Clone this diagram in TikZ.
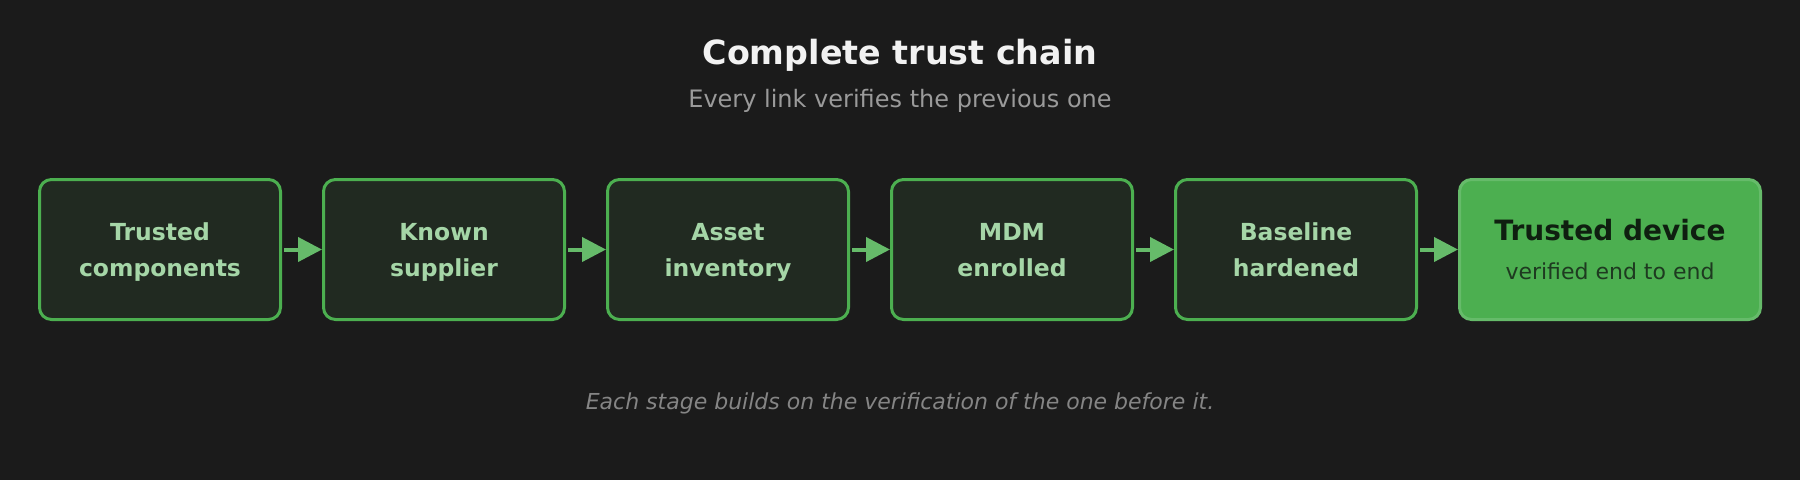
\documentclass[tikz,border=0pt]{standalone}
\usepackage{fontspec}
\setmainfont{DejaVu Sans}
\usetikzlibrary{arrows.meta}

\definecolor{bgdark}{HTML}{1B1B1B}
\definecolor{titlewhite}{HTML}{F2F2F2}
\definecolor{subgray}{HTML}{9A9A9A}
\definecolor{notegray}{HTML}{858585}
\definecolor{stagefill}{HTML}{212A21}
\definecolor{stageedge}{HTML}{4CAF50}
\definecolor{stagetext}{HTML}{A5D6A7}
\definecolor{linkgreen}{HTML}{66BB6A}
\definecolor{finalfill}{HTML}{4CAF50}
\definecolor{finaltext}{HTML}{0F1F10}
\definecolor{finalsub}{HTML}{1E3A20}

\tikzset{
  stagebox/.style={draw=stageedge, fill=stagefill, line width=2.25pt,
    rounded corners=9pt, minimum width=180.75pt, minimum height=105pt,
    inner sep=0pt, align=center, text=stagetext,
    font=\bfseries\fontsize{17.6}{27}\selectfont},
  finalbox/.style={stagebox, draw=linkgreen, fill=finalfill, text=finalsub,
    minimum width=225.75pt, font=\fontsize{16.5}{29.25}\selectfont},
  link/.style={draw=linkgreen, line width=3pt, shorten <=1.5pt,
    -{Triangle[length=18pt,width=18pt]}}
}

\begin{document}
\begin{tikzpicture}[x=0.75pt,y=-0.75pt]

          % page and background
          \fill[bgdark] (0,0) rectangle (1800,480);
          \useasboundingbox (0,0) rectangle (1800,480);

          \node[anchor=base, text=titlewhite, font=\bfseries\fontsize{25}{30}\selectfont]
            (title) at (900,64) {Complete trust chain};
          \node[anchor=base, text=subgray, font=\fontsize{18}{22}\selectfont]
            (subtitle) at (900,107) {Every link verifies the previous one};

          % the chain
          \foreach \i/\lineA/\lineB in {1/Trusted/components, 2/Known/supplier,
              3/Asset/inventory, 4/MDM/enrolled, 5/Baseline/hardened}{
            \node[stagebox] (st\i) at ({160+284*(\i-1)},249.5) {\lineA\\\smash{\lineB}};
          }
          \node[finalbox] (st6) at (1610,249.5)
            {{\fontsize{21}{29.25}\selectfont\bfseries\color{finaltext}Trusted device}\\verified end to end};

          \foreach \i [evaluate=\i as \j using int(\i+1)] in {1,...,5}{
            \draw[link] (st\i) -- (st\j);
          }

          \node[anchor=base, text=notegray, font=\itshape\fontsize{16.5}{20}\selectfont]
            (note) at (900,409) {Each stage builds on the verification of the one before it.};
        \end{tikzpicture}
\end{document}
